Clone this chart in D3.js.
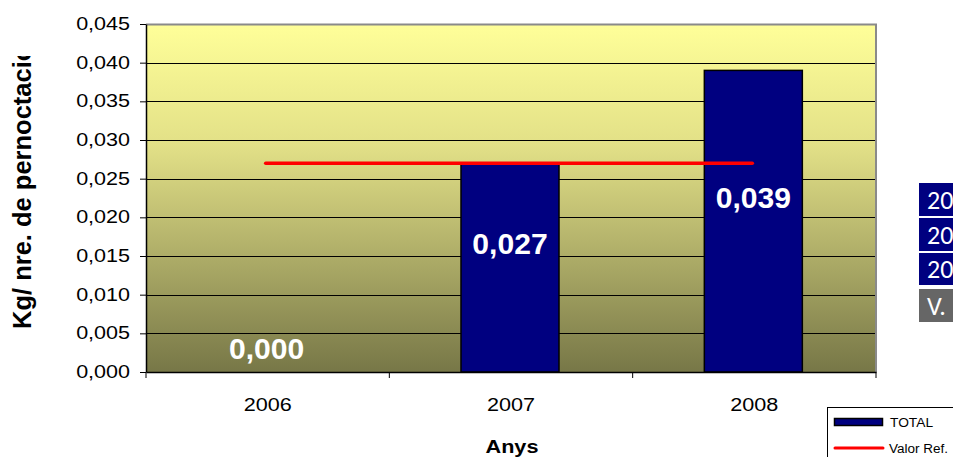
<!DOCTYPE html>
<html><head><meta charset="utf-8">
<script src="https://cdn.jsdelivr.net/npm/d3@7"></script>
<style>
html,body{margin:0;padding:0;background:#fff;}
svg{display:block;font-family:"Liberation Sans",Arial,sans-serif;}
</style></head>
<body>
<svg id="c" width="953" height="457"></svg>
<script>
const categories = ["2006","2007","2008"];
const totalValues = [0.000, 0.027, 0.039];
const refValue = 0.027;
const yTicks = [0,0.005,0.010,0.015,0.020,0.025,0.030,0.035,0.040,0.045];
const valueLabels = ["0,000","0,027","0,039"];
const legendLabels = ["TOTAL","Valor Ref."];
const tableFragments = ["20","20","20","V."];

const svg = d3.select("#c");
const m = {left:146, right:876, top:24, bottom:372};
const fmt = d => d3.format(".3f")(d).replace(".", ",");
function stretch(sel, f){
  sel.each(function(){
    const w = this.getComputedTextLength();
    d3.select(this).attr("textLength", w*f).attr("lengthAdjust","spacingAndGlyphs");
  });
}

const x = d3.scaleBand().domain(categories).range([m.left, m.right]).paddingInner(0).paddingOuter(0);
const y = d3.scaleLinear().domain([0,0.045]).range([m.bottom, m.top]);

const defs = svg.append("defs");
const g = defs.append("linearGradient").attr("id","bg").attr("x1",0).attr("y1",0).attr("x2",0).attr("y2",1);
g.append("stop").attr("offset","0%").attr("stop-color","#ffff99");
g.append("stop").attr("offset","35%").attr("stop-color","#e2e087");
g.append("stop").attr("offset","100%").attr("stop-color","#777747");
defs.append("clipPath").attr("id","ytclip").append("rect").attr("x",0).attr("y",56).attr("width",60).attr("height",400);

// plot background
svg.append("rect").attr("x",m.left).attr("y",m.top).attr("width",m.right-m.left).attr("height",m.bottom-m.top)
  .attr("fill","url(#bg)");
svg.append("path").attr("d",`M${m.left},${m.top+0.5}H${m.right}V${m.bottom}`)
  .attr("fill","none").attr("stroke","#8a8a8a").attr("stroke-width",2);

// gridlines
svg.append("g").selectAll("line").data(yTicks.filter(t=>t>0 && t<0.045)).join("line")
  .attr("x1",m.left).attr("x2",m.right-1).attr("y1",d=>Math.round(y(d))+0.5).attr("y2",d=>Math.round(y(d))+0.5)
  .attr("stroke","#000").attr("stroke-width",1);

// bars
const bw = 98;
svg.append("g").selectAll("rect").data(totalValues).join("rect")
  .attr("x",(d,i)=>x(categories[i])+x.bandwidth()/2-bw/2-1)
  .attr("y",d=>y(d))
  .attr("width",bw).attr("height",d=>y(0)-y(d))
  .attr("fill","#000080").attr("stroke","#000").attr("stroke-width",1.5);

// reference line
svg.append("line")
  .attr("x1",x(categories[0])+x.bandwidth()/2-2)
  .attr("x2",x(categories[categories.length-1])+x.bandwidth()/2-2)
  .attr("y1",y(refValue)).attr("y2",y(refValue))
  .attr("stroke","#ff0000").attr("stroke-width",3.5).attr("stroke-linecap","round");

// value labels
const vl = svg.append("g").selectAll("text").data(totalValues).join("text")
  .attr("x",(d,i)=>x(categories[i])+x.bandwidth()/2-1)
  .attr("y",d=>y(d/2)-24+10.5)
  .attr("text-anchor","middle").attr("fill","#fff").attr("font-weight","bold")
  .attr("font-size",29.5)
  .text((d,i)=>valueLabels[i]);
stretch(vl, 1.02);

// y axis
const ya = svg.append("g").attr("transform",`translate(${m.left},0)`)
  .call(d3.axisLeft(y).tickValues(yTicks).tickFormat(fmt).tickSize(6).tickSizeOuter(0));
ya.select(".domain").attr("stroke","#000").attr("stroke-width",1.5);
ya.selectAll(".tick line").attr("stroke","#000");
ya.selectAll(".tick text").attr("font-size",17.5).attr("fill","#000").attr("x",-16)
  .attr("font-family","'Liberation Sans',Arial,sans-serif");
stretch(ya.selectAll(".tick text"), 1.23);

// x axis
const xa = svg.append("g").attr("transform",`translate(0,${m.bottom})`)
  .call(d3.axisBottom(x).tickSize(0).tickSizeOuter(0));
xa.select(".domain").attr("stroke","#000").attr("stroke-width",1.5);
xa.selectAll(".tick text").attr("font-size",18).attr("fill","#000").attr("dy",0).attr("y",39)
  .attr("font-family","'Liberation Sans',Arial,sans-serif");
stretch(xa.selectAll(".tick text"), 1.2);
svg.append("g").selectAll("line").data(categories.concat(["_end"])).join("line")
  .attr("x1",(d,i)=>m.left + i*x.bandwidth()).attr("x2",(d,i)=>m.left + i*x.bandwidth())
  .attr("y1",m.bottom).attr("y2",m.bottom+6).attr("stroke","#000");

// axis titles
const at = svg.append("text").attr("x",512).attr("y",453).attr("text-anchor","middle")
  .attr("font-weight","bold").attr("font-size",19).text("Anys");
stretch(at, 1.14);
svg.append("g").attr("clip-path","url(#ytclip)").append("text")
  .attr("transform","translate(31,329) rotate(-90)").attr("text-anchor","start")
  .attr("font-weight","bold").attr("font-size",25.5)
  .text("Kg/ nre. de pernoctació");

// legend
const lg = svg.append("g");
lg.append("rect").attr("x",827.5).attr("y",407.5).attr("width",140).attr("height",60)
  .attr("fill","#fff").attr("stroke","#000").attr("stroke-width",1);
lg.append("rect").attr("x",834.5).attr("y",418.5).attr("width",48).attr("height",7)
  .attr("fill","#000080").attr("stroke","#000").attr("stroke-width",1.5);
const l1 = lg.append("text").attr("x",890).attr("y",427).attr("font-size",12.5).text(legendLabels[0]);
stretch(l1, 1.1);
lg.append("line").attr("x1",835).attr("x2",883).attr("y1",448).attr("y2",448)
  .attr("stroke","#ff0000").attr("stroke-width",3).attr("stroke-linecap","round");
const l2 = lg.append("text").attr("x",889).attr("y",453).attr("font-size",12.5).text(legendLabels[1]);
stretch(l2, 1.08);

// clipped data table fragments on the right
const tb = [[183,216],[218,251],[253,285],[289,322]];
const tf = svg.append("g");
tf.selectAll("rect").data(tableFragments).join("rect")
  .attr("x",919).attr("y",(d,i)=>tb[i][0]).attr("width",40).attr("height",(d,i)=>tb[i][1]-tb[i][0])
  .attr("fill",(d,i)=>i<3?"#000080":"#666666");
tf.selectAll("text").data(tableFragments).join("text")
  .attr("x",927).attr("y",(d,i)=>(tb[i][0]+tb[i][1])/2+9)
  .attr("fill","#fff").attr("font-size",26).attr("font-family","Carlito,'Open Sans','Noto Sans',sans-serif")
  .text(d=>d);
</script>
</body></html>
